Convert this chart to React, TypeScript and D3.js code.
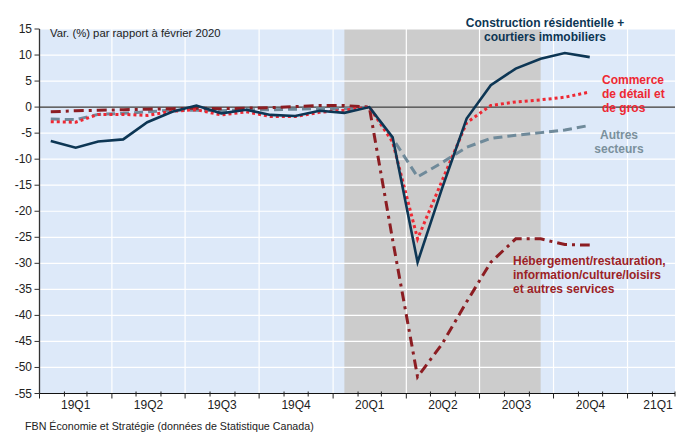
import React from 'react'
import * as d3 from 'd3'

// monthly values, Jan 2019 -> Nov 2020 (% change vs Feb 2020)
const months = d3.range(23).map(i => new Date(2019, i, 15))
const construction = [-6.5, -7.8, -6.6, -6.2, -2.9, -0.9, 0.3, -1.2, -0.5, -1.5, -1.7, -0.7, -1.1, 0, -5.8, -29.8, -15.8, -2.2, 4.2, 7.4, 9.3, 10.4, 9.6]
const commerce = [-2.8, -2.9, -1.4, -1.4, -1.6, -0.8, -0.5, -1.5, -0.9, -1.8, -1.8, -1.0, -0.6, 0, -6.7, -25.3, -14.3, -3.0, 0.3, 1.0, 1.4, 1.9, 2.9]
const autres = [-2.3, -2.4, -1.4, -1.2, -0.9, -0.6, -0.6, -0.7, -0.5, -0.5, -0.4, -0.3, -0.3, 0, -6.0, -13.4, -10.7, -7.7, -6.0, -5.4, -4.9, -4.4, -3.5]
const hebergement = [-0.9, -0.7, -0.6, -0.5, -0.4, -0.3, -0.2, -0.3, -0.2, -0.1, 0.1, 0.3, 0.3, 0, -25.5, -51.8, -45.6, -37.4, -29.8, -25.3, -25.3, -26.4, -26.5]

const quarterLabels = ['19Q1', '19Q2', '19Q3', '19Q4', '20Q1', '20Q2', '20Q3', '20Q4', '21Q1']
const yTicks = d3.range(-55, 16, 5)
const recession = [new Date(2020, 0, 15), new Date(2020, 8, 15)]

const series = [
  { name: 'autres', values: autres, color: '#6f8a9a', width: 3, dash: '9 5' },
  { name: 'hebergement', values: hebergement, color: '#8c1d22', width: 3, dash: '10 5 3 5' },
  { name: 'commerce', values: commerce, color: '#ee2833', width: 3, dash: '3 3' },
  { name: 'construction', values: construction, color: '#0d3654', width: 2.6, dash: null },
]

export default function App() {
  const W = 685, H = 434
  const m = { left: 39.5, right: 675, top: 29, bottom: 393.5 }

  const x = d3.scaleTime()
    .domain([new Date(2019, 0, 1), new Date(2021, 2, 1)])
    .range([m.left, m.right])
  const y = d3.scaleLinear().domain([-55, 15]).range([m.bottom, m.top])

  const line = (vals: number[]) => d3.line<number>()
    .x((_, i) => x(months[i]))
    .y(v => y(v))(vals)

  const monthTicks = d3.timeMonth.range(new Date(2019, 0, 1), new Date(2021, 2, 2))
  const quarterTicks = monthTicks.filter(d => d.getMonth() % 3 === 0)
  const font = 'Arial, "Liberation Sans", sans-serif'

  return (
    <div style={{ position: 'absolute', left: 0, top: 0 }}>
      <svg width={W} height={H} style={{ display: 'block', fontFamily: font }}>
        <rect x={0} y={0} width={W} height={H} fill="#fff" />
        <rect x={m.left} y={m.top} width={m.right - m.left} height={m.bottom - m.top} fill="#dde9f9" />
        <rect x={x(recession[0])} y={m.top} width={x(recession[1]) - x(recession[0])}
          height={m.bottom - m.top} fill="#cccccc" />
        {/* grid */}
        {yTicks.map(t =>
          <line key={t} x1={m.left} x2={m.right} y1={y(t)} y2={y(t)} stroke="#fff" strokeWidth={1.2} />
        )}
        {quarterTicks.slice(1).map(d =>
          <line key={+d} x1={x(d)} x2={x(d)} y1={m.top} y2={m.bottom} stroke="#fff" strokeWidth={1.2} />
        )}
        <text x={50} y={37} fontSize={11.3} fill="#222">Var. (%) par rapport à février 2020</text>
        <line x1={m.left} x2={m.right} y1={y(0)} y2={y(0)} stroke="#000" strokeWidth={1} />

        {series.map(s =>
          <path key={s.name} d={line(s.values) ?? ''} fill="none" stroke={s.color}
            strokeWidth={s.width} strokeDasharray={s.dash ?? undefined} strokeLinejoin="miter" />
        )}

        {/* axes */}
        <line x1={m.left} x2={m.left} y1={m.top} y2={m.bottom} stroke="#333" strokeWidth={1.3} />
        <line x1={m.left} x2={m.right} y1={m.bottom} y2={m.bottom} stroke="#111" strokeWidth={1.2} />
        {yTicks.map(t =>
          <g key={t}>
            <line x1={m.left - 5} x2={m.left} y1={y(t)} y2={y(t)} stroke="#333" />
            <text x={32} y={y(t) + 4} fontSize={12} textAnchor="end" fill="#222">{t}</text>
          </g>
        )}
        {monthTicks.map(d => {
          const q = d.getMonth() % 3 === 0
          return <line key={+d} x1={x(d)} x2={x(d)} y1={q ? m.bottom : m.bottom - 2}
            y2={m.bottom + (q ? 5 : 3)} stroke="#222" strokeWidth={1} />
        })}
        {quarterLabels.map((l, i) => {
          const a = x(quarterTicks[i])
          const b = Math.min(x(d3.timeMonth.offset(quarterTicks[i], 3)), m.right + 30)
          return <text key={l} x={i === 8 ? 658 : (a + b) / 2} y={409} fontSize={12}
            textAnchor="middle" fill="#222">{l}</text>
        })}

        {/* annotations */}
        <g fontSize={12} fontWeight="bold">
          <text x={545} y={27} textAnchor="middle" fill="#0d3654">Construction résidentielle +</text>
          <text x={545} y={41} textAnchor="middle" fill="#0d3654">courtiers immobiliers</text>
          <text x={602} y={84} fill="#ee2833">Commerce</text>
          <text x={602} y={98} fill="#ee2833">de détail et</text>
          <text x={602} y={112} fill="#ee2833">de gros</text>
          <text x={619} y={139} textAnchor="middle" fill="#7a909c">Autres</text>
          <text x={619} y={153} textAnchor="middle" fill="#7a909c">secteurs</text>
          <text x={513} y={265} fill="#9b2226">Hébergement/restauration,</text>
          <text x={513} y={279} fill="#9b2226">information/culture/loisirs</text>
          <text x={513} y={293} fill="#9b2226">et autres services</text>
        </g>
        <text x={25} y={429.5} fontSize={10.7} fill="#222">FBN Économie et Stratégie (données de Statistique Canada)</text>
      </svg>
    </div>
  )
}
